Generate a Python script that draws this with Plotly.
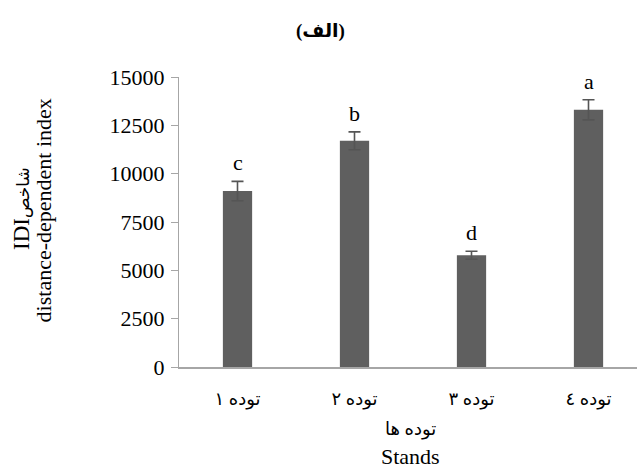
import plotly.graph_objects as go

# Stand names (Persian, Arabic-Indic digits), mean IDI values, standard errors, group letters
stands = ["توده ١", "توده ٢", "توده ٣", "توده ٤"]
idi_mean = [9100, 11700, 5780, 13300]
idi_err = [500, 460, 210, 520]
groups = ["c", "b", "d", "a"]
y_ticks = [0, 2500, 5000, 7500, 10000, 12500, 15000]
y_tick_text = [str(v) for v in y_ticks]

FONT = "Liberation Serif, Times New Roman, DejaVu Serif, DejaVu Sans, serif"

fig = go.Figure()
fig.add_trace(go.Bar(
    x=stands,
    y=idi_mean,
    marker=dict(color="#5f5f5f", line=dict(width=0)),
    error_y=dict(type="data", array=idi_err, visible=True,
                 color="#555555", thickness=1.6, width=6),
    showlegend=False,
))

# significance letters above the error bars
for s, m, e, g in zip(stands, idi_mean, idi_err, groups):
    fig.add_annotation(x=s, y=m + e, text=g, showarrow=False,
                       xanchor="center", yanchor="bottom", yshift=4,
                       font=dict(family=FONT, size=22, color="black"))

L, R = 179, 637
def px(x):
    return (x - L) / (R - L)

# chart heading
fig.add_annotation(xref="paper", yref="paper", x=px(320), y=1.0, yshift=46,
                   text="<b>(الف)</b>", showarrow=False, xanchor="center", yanchor="middle",
                   font=dict(family=FONT, size=19, color="black"))

# y-axis title (two rotated lines)
fig.add_annotation(xref="paper", yref="paper", x=px(22), y=0.545,
                   text="IDI<span style='font-size:17px'>شاخص</span>", showarrow=False,
                   textangle=-90, xanchor="center", yanchor="middle",
                   font=dict(family=FONT, size=23, color="black"))
fig.add_annotation(xref="paper", yref="paper", x=px(43), y=0.54,
                   text="distance-dependent index", showarrow=False, textangle=-90,
                   xanchor="center", yanchor="middle",
                   font=dict(family=FONT, size=22, color="black"))

# x-axis title (two lines)
fig.add_annotation(xref="paper", yref="paper", x=px(410), y=0, yshift=-62,
                   text="توده ها", showarrow=False, xanchor="center", yanchor="middle",
                   font=dict(family=FONT, size=18, color="black"))
fig.add_annotation(xref="paper", yref="paper", x=px(410), y=0, yshift=-89,
                   text="Stands", showarrow=False, xanchor="center", yanchor="middle",
                   font=dict(family=FONT, size=22, color="black"))

fig.update_layout(
    width=637, height=472,
    margin=dict(l=L, r=0, t=77, b=105, autoexpand=False),
    paper_bgcolor="white", plot_bgcolor="white",
    bargap=0.75,
    font=dict(family=FONT, size=22, color="black"),
)
fig.update_xaxes(
    range=[-0.5, 3.5 - 10 / 117],
    showline=True, linecolor="#a6a6a6", linewidth=2,
    ticks="", showgrid=False,
    tickfont=dict(family=FONT, size=18, color="black"),
    ticklabelstandoff=14,
)
fig.update_yaxes(
    range=[0, 15000], tickvals=y_ticks, ticktext=y_tick_text,
    showline=True, linecolor="#a6a6a6", linewidth=1,
    ticks="outside", ticklen=7, tickcolor="#a6a6a6", tickwidth=1,
    showgrid=False, zeroline=False,
    tickfont=dict(family=FONT, size=22, color="black"),
    ticklabelstandoff=2,
)

fig.write_html("out.html")
